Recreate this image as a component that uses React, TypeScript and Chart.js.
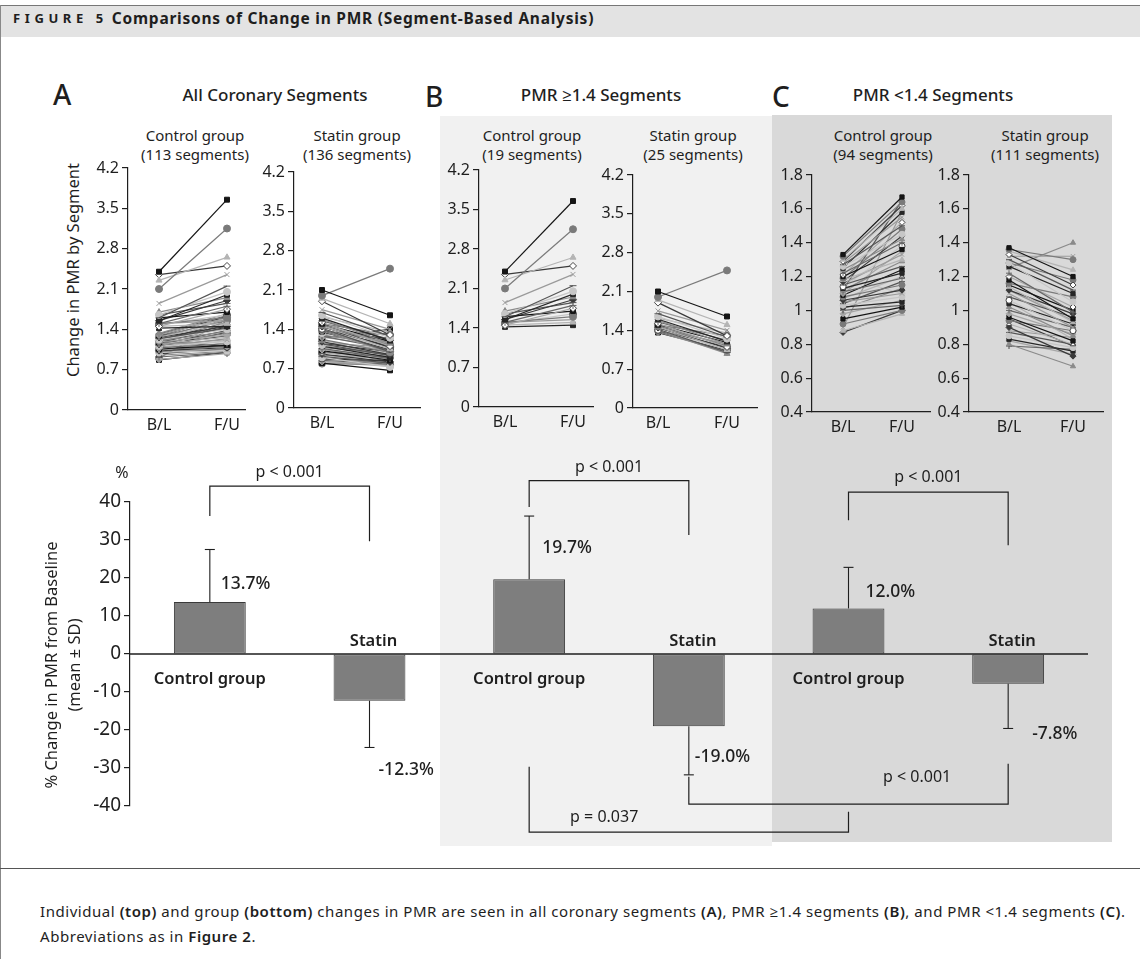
import React, { useEffect, useRef } from 'react';
import { Chart, registerables } from 'chart.js';

Chart.register(...registerables);

const FONT = '"Noto Sans", "Open Sans", "DejaVu Sans", sans-serif';
const INK = '#1e1e1e';

// ---------------- Data ----------------
const timePoints = ['B/L', 'F/U'];

// Panel B: PMR >= 1.4 segments (individual segments, baseline and follow-up)
const bControlBL = [2.40, 2.10, 2.25, 2.35, 1.85, 1.60, 1.65, 1.55, 1.70, 1.50, 1.45, 1.60, 1.50, 1.45, 1.55, 1.50, 1.65, 1.48, 1.42];
const bControlFU = [3.65, 3.15, 2.65, 2.50, 2.35, 2.15, 2.05, 2.00, 1.95, 1.80, 1.75, 1.70, 1.60, 1.50, 1.90, 1.55, 1.85, 1.65, 1.45];
const bStatinBL = [2.10, 2.00, 1.95, 1.90, 1.75, 1.70, 1.65, 1.60, 1.58, 1.55, 1.52, 1.50, 1.48, 1.46, 1.45, 1.44, 1.42, 1.41, 1.40, 1.40, 1.38, 1.37, 1.36, 1.50, 1.62];
const bStatinFU = [1.65, 2.48, 1.50, 1.30, 1.40, 1.28, 1.25, 1.20, 1.15, 1.22, 1.10, 1.18, 1.12, 1.05, 1.08, 1.15, 1.00, 1.05, 1.10, 0.98, 1.02, 1.00, 1.04, 1.30, 1.35];

// Panel C: PMR < 1.4 segments
const cControlBL = [1.33, 1.32, 1.30, 1.29, 1.28, 1.27, 1.26, 1.25, 1.24, 1.22, 1.21, 1.20, 1.19, 1.18, 1.17, 1.16, 1.15, 1.14, 1.13, 1.12, 1.11, 1.10, 1.09, 1.08, 1.07, 1.06, 1.05, 1.04, 1.03, 1.02, 1.01, 1.00, 0.98, 0.95, 0.92, 0.88, 0.87, 0.90, 1.12, 1.20];
const cControlFU = [1.67, 1.64, 1.60, 1.62, 1.55, 1.50, 1.45, 1.58, 1.42, 1.40, 1.52, 1.36, 1.48, 1.30, 1.44, 1.33, 1.26, 1.38, 1.22, 1.29, 1.19, 1.35, 1.24, 1.15, 1.20, 1.12, 1.10, 1.17, 1.08, 1.05, 1.13, 1.03, 1.06, 1.02, 1.00, 0.98, 1.00, 1.58, 1.65, 1.10];
const cStatinBL = [1.37, 1.36, 1.35, 1.33, 1.32, 1.30, 1.28, 1.26, 1.25, 1.22, 1.20, 1.18, 1.16, 1.14, 1.12, 1.10, 1.08, 1.06, 1.04, 1.02, 1.00, 0.98, 0.96, 0.94, 0.92, 0.90, 0.88, 0.87, 0.85, 0.83, 0.80, 0.79, 0.82, 1.15, 1.28, 1.05, 0.95, 1.12];
const cStatinFU = [1.20, 1.30, 1.24, 1.15, 1.32, 1.12, 1.05, 1.10, 1.40, 0.99, 1.02, 0.95, 1.08, 0.93, 0.98, 0.90, 0.96, 0.88, 0.92, 0.85, 0.90, 0.86, 0.82, 0.88, 0.80, 0.73, 0.84, 0.80, 0.78, 0.76, 0.67, 0.77, 0.74, 1.00, 1.18, 0.83, 0.79, 0.94];

// Panel A: all coronary segments = B + C
const aControlBL = [...bControlBL, ...cControlBL];
const aControlFU = [...bControlFU, ...cControlFU];
const aStatinBL = [...bStatinBL, ...cStatinBL];
const aStatinFU = [...bStatinFU, ...cStatinFU];

// Group-level % change from baseline (mean ± SD)
const barGroups = ['Control group', 'Statin', 'Control group', 'Statin', 'Control group', 'Statin'];
const meanChange = [13.7, -12.3, 19.7, -19.0, 12.0, -7.8];
const sdChange = [13.8, 12.3, 16.6, 12.8, 10.8, 11.8];
const pctAxis = { min: -40, max: 40, step: 10 };

const comparisons = [
  { from: 0, to: 1, label: 'p < 0.001' },
  { from: 2, to: 3, label: 'p < 0.001' },
  { from: 4, to: 5, label: 'p < 0.001' },
  { from: 3, to: 5, label: 'p < 0.001' },
  { from: 2, to: 4, label: 'p = 0.037' },
];

// ---------------- Layout / style (not data) ----------------
const bracketGeom = [
  { y: 44.2, fromEnd: 36.3, toEnd: 29.7, labelX: 0.5, labelY: 47.7 },
  { y: 45.6, fromEnd: 38.7, toEnd: 31.3, labelX: 2.5, labelY: 49.0 },
  { y: 42.6, fromEnd: 35.2, toEnd: 28.6, labelX: 4.5, labelY: 46.4 },
  { y: -39.5, fromEnd: -32.3, toEnd: -28.9, labelX: 4.43, labelY: -32.6 },
  { y: -46.9, fromEnd: -29.7, toEnd: -41.5, labelX: 2.47, labelY: -43.0 },
];
const valueLabelAt = [18.3, -30.5, 27.8, -27.0, 16.4, -21.0];
const valueLabelDx = [11, 9, 13, 6, 17, 24];

const SHADES = ['#151515', '#7a7a7a', '#b4b4b4', '#3a3a3a', '#9a9a9a', '#555555', '#c6c6c6', '#262626', '#8a8a8a', '#666666', '#a6a6a6'];
const MARKERS = ['rect', 'circle', 'triangle', 'rectRot', 'crossRot', 'line', 'circle', 'rect', 'triangle', 'cross', 'rectRot'];

const GEOM: Record<string, any> = {
  aCtrl: { axisX: 128, yTop: 168, y0: 410, bl: 159, fu: 227, right: 245 },
  aStat: { axisX: 294, yTop: 172, y0: 408, bl: 322, fu: 390, right: 420 },
  bCtrl: { axisX: 479, yTop: 170, y0: 407, bl: 505, fu: 573, right: 593 },
  bStat: { axisX: 633, yTop: 175, y0: 408, bl: 658, fu: 727, right: 757 },
  cCtrl: { axisX: 812, yTop: 175, y0: 412, bl: 843, fu: 902, right: 930 },
  cStat: { axisX: 969, yTop: 175, y0: 412, bl: 1009, fu: 1073, right: 1103 },
};

const fmt = (v: number) => String(+Number(v).toFixed(2));

function SmallChart({ bl, fu, yMin, yMax, step, g, radius }: any) {
  const ref = useRef<HTMLCanvasElement>(null);
  const Y_W = 50, X_H = 30, PAD_T = 20, PAD_R = 8;
  const width = Y_W + (g.right - g.axisX) + PAD_R;
  const height = PAD_T + (g.y0 - g.yTop) + X_H;
  useEffect(() => {
    const span = g.fu - g.bl;
    const xMin = (g.axisX - g.bl) / span;
    const xMax = (g.right - g.bl) / span;
    const datasets = bl.map((b: number, i: number) => {
      const shade = SHADES[i % SHADES.length];
      const hollow = i % 7 === 3;
      return {
        data: [{ x: 0, y: b }, { x: 1, y: fu[i] }],
        borderColor: shade,
        borderWidth: 1.2,
        pointStyle: MARKERS[i % MARKERS.length],
        pointRadius: radius,
        pointBackgroundColor: hollow ? '#ffffff' : shade,
        pointBorderColor: hollow ? '#444' : shade,
        pointBorderWidth: 1,
      };
    });
    const chart = new Chart(ref.current as HTMLCanvasElement, {
      type: 'line',
      data: { datasets },
      options: {
        animation: false,
        responsive: false,
        events: [],
        layout: { padding: { top: PAD_T, right: PAD_R, left: 0, bottom: 0 } },
        plugins: { legend: { display: false }, tooltip: { enabled: false } },
        scales: {
          x: {
            type: 'linear',
            min: xMin,
            max: xMax,
            afterBuildTicks: (s: any) => { s.ticks = [{ value: 0 }, { value: 1 }]; },
            afterFit: (s: any) => { s.height = X_H; },
            ticks: {
              autoSkip: false,
              maxRotation: 0,
              padding: 6,
              color: INK,
              font: { family: FONT, size: 16 },
              callback: (v: any) => (v === 0 ? timePoints[0] : v === 1 ? timePoints[1] : ''),
            },
            grid: { display: false, drawTicks: false },
            border: { display: true, color: INK, width: 1.2 },
          },
          y: {
            min: yMin,
            max: yMax,
            afterFit: (s: any) => { s.width = Y_W; },
            ticks: { stepSize: step, padding: 3, color: INK, font: { family: FONT, size: 16 }, callback: (v: any) => fmt(v) },
            grid: { drawOnChartArea: false, drawTicks: true, tickLength: 6, color: INK, lineWidth: 1.2 },
            border: { display: true, color: INK, width: 1.2 },
          },
        },
      } as any,
    });
    return () => chart.destroy();
  }, []);
  return (
    <canvas
      ref={ref}
      width={width}
      height={height}
      style={{ position: 'absolute', left: g.axisX - Y_W, top: g.yTop - PAD_T, width, height }}
    />
  );
}

const barAnnotations = {
  id: 'barAnnotations',
  afterDatasetsDraw(chart: any) {
    const { ctx, chartArea, scales } = chart;
    const X = (v: number) => scales.x.getPixelForValue(v);
    const Y = (v: number) => scales.y.getPixelForValue(v);
    const seg = (x1: number, y1: number, x2: number, y2: number) => {
      ctx.beginPath();
      ctx.moveTo(x1, y1);
      ctx.lineTo(x2, y2);
      ctx.stroke();
    };
    ctx.save();
    ctx.strokeStyle = INK;
    ctx.lineWidth = 1.4;
    seg(chartArea.left, Y(0), chartArea.right, Y(0));
    ctx.lineWidth = 1.1;
    meanChange.forEach((m, i) => {
      const cx = X(i);
      const end = m >= 0 ? m + sdChange[i] : m - sdChange[i];
      seg(cx, Y(m), cx, Y(end));
      seg(cx - 5, Y(end), cx + 5, Y(end));
    });
    ctx.lineWidth = 1.2;
    ctx.fillStyle = INK;
    comparisons.forEach((c, k) => {
      const g = bracketGeom[k];
      ctx.beginPath();
      ctx.moveTo(X(c.from), Y(g.fromEnd));
      ctx.lineTo(X(c.from), Y(g.y));
      ctx.lineTo(X(c.to), Y(g.y));
      ctx.lineTo(X(c.to), Y(g.toEnd));
      ctx.stroke();
      ctx.font = `400 16px ${FONT}`;
      ctx.textAlign = 'center';
      ctx.textBaseline = 'middle';
      ctx.fillText(c.label, X(g.labelX), Y(g.labelY));
    });
    meanChange.forEach((m, i) => {
      ctx.font = `500 17.5px ${FONT}`;
      ctx.textAlign = 'left';
      ctx.textBaseline = 'middle';
      ctx.fillText(`${m.toFixed(1)}%`, X(i) + valueLabelDx[i], Y(valueLabelAt[i]));
      ctx.font = `600 16.5px ${FONT}`;
      ctx.textAlign = 'center';
      if (m >= 0) {
        ctx.fillText(barGroups[i], X(i), Y(0) + 25);
      } else {
        ctx.fillText(barGroups[i], X(i) + 4, Y(0) - 13);
      }
    });
    ctx.restore();
  },
};

function BarChart() {
  const ref = useRef<HTMLCanvasElement>(null);
  const W = 1140, H = 440, TOP = 440;
  useEffect(() => {
    const chart = new Chart(ref.current as HTMLCanvasElement, {
      type: 'bar',
      data: {
        labels: barGroups,
        datasets: [
          {
            data: meanChange,
            backgroundColor: '#7e7e7e',
            borderColor: '#3a3a3a',
            borderWidth: 1,
            borderSkipped: false,
            barPercentage: 0.45,
            categoryPercentage: 1,
          },
        ],
      },
      options: {
        animation: false,
        responsive: false,
        events: [],
        layout: { padding: { top: 502 - TOP, bottom: TOP + H - 806, left: 0, right: W - 1088 } },
        plugins: { legend: { display: false }, tooltip: { enabled: false } },
        scales: {
          x: { display: false },
          y: {
            min: pctAxis.min,
            max: pctAxis.max,
            afterFit: (s: any) => { s.width = 130; },
            ticks: { stepSize: pctAxis.step, padding: 3, color: INK, font: { family: FONT, size: 19 }, callback: (v: any) => fmt(v) },
            grid: { drawOnChartArea: false, drawTicks: true, tickLength: 6, color: INK, lineWidth: 1.2 },
            border: { display: true, color: INK, width: 1.2 },
          },
        },
      } as any,
      plugins: [barAnnotations],
    });
    return () => chart.destroy();
  }, []);
  return <canvas ref={ref} width={W} height={H} style={{ position: 'absolute', left: 0, top: TOP, width: W, height: H }} />;
}

function T({ x, y, children, size = 15, weight = 400, rotate = false, align = 'center', style = {} }: any) {
  const tx = align === 'center' ? '-50%' : '0';
  return (
    <div
      style={{
        position: 'absolute',
        left: x,
        top: y,
        transform: `translate(${tx}, -50%)${rotate ? ' rotate(-90deg)' : ''}`,
        transformOrigin: 'center center',
        whiteSpace: 'nowrap',
        fontFamily: FONT,
        fontSize: size,
        fontWeight: weight,
        color: INK,
        lineHeight: 1.2,
        textAlign: 'center',
        ...style,
      }}
    >
      {children}
    </div>
  );
}

function Sub({ x, a, b }: any) {
  return (
    <>
      <T x={x} y={135}>{a}</T>
      <T x={x} y={154}>{b}</T>
    </>
  );
}

const B = ({ children }: any) => <b style={{ fontWeight: 600 }}>{children}</b>;

export default function App() {
  return (
    <div style={{ position: 'absolute', left: 0, top: 0, width: 1140, height: 959, background: '#fff', overflow: 'hidden' }}>
      {/* backgrounds */}
      <div style={{ position: 'absolute', left: 0, top: 5, width: 1140, height: 31, background: '#e3e3e3', borderTop: '1px solid #777' }} />
      <div style={{ position: 'absolute', left: 440, top: 116, width: 332, height: 730, background: '#f1f1f1' }} />
      <div style={{ position: 'absolute', left: 772, top: 115, width: 340, height: 727, background: '#d9d9d9' }} />
      <div style={{ position: 'absolute', left: 0, top: 5, width: 1, height: 954, background: '#888' }} />
      <div style={{ position: 'absolute', left: 0, top: 868, width: 1140, height: 1, background: '#555' }} />

      {/* header */}
      <div style={{ position: 'absolute', left: 13, top: 6, height: 24, display: 'flex', alignItems: 'center', fontFamily: FONT, color: INK, whiteSpace: 'nowrap' }}>
        <span style={{ fontSize: 13, fontWeight: 700, letterSpacing: 4.6, marginRight: 4 }}>FIGURE 5</span>
        <span style={{ fontSize: 15.5, fontWeight: 700, letterSpacing: 0.75 }}>Comparisons of Change in PMR (Segment-Based Analysis)</span>
      </div>

      {/* panel titles */}
      <T x={53} y={95} size={28} weight={500} align="left">A</T>
      <T x={275} y={95} size={17} weight={500}>All Coronary Segments</T>
      <T x={425} y={97} size={28} weight={500} align="left">B</T>
      <T x={601} y={95} size={17} weight={500}>PMR ≥1.4 Segments</T>
      <T x={772} y={97} size={28} weight={500} align="left">C</T>
      <T x={933} y={95} size={17} weight={500}>PMR &lt;1.4 Segments</T>

      <Sub x={195} a="Control group" b="(113 segments)" />
      <Sub x={357} a="Statin group" b="(136 segments)" />
      <Sub x={532} a="Control group" b="(19 segments)" />
      <Sub x={693} a="Statin group" b="(25 segments)" />
      <Sub x={883} a="Control group" b="(94 segments)" />
      <Sub x={1045} a="Statin group" b="(111 segments)" />

      <T x={73} y={270} size={16.5} rotate>Change in PMR by Segment</T>

      <SmallChart bl={aControlBL} fu={aControlFU} yMin={0} yMax={4.2} step={0.7} g={GEOM.aCtrl} radius={3.5} />
      <SmallChart bl={aStatinBL} fu={aStatinFU} yMin={0} yMax={4.2} step={0.7} g={GEOM.aStat} radius={3.5} />
      <SmallChart bl={bControlBL} fu={bControlFU} yMin={0} yMax={4.2} step={0.7} g={GEOM.bCtrl} radius={3.5} />
      <SmallChart bl={bStatinBL} fu={bStatinFU} yMin={0} yMax={4.2} step={0.7} g={GEOM.bStat} radius={3.5} />
      <SmallChart bl={cControlBL} fu={cControlFU} yMin={0.4} yMax={1.8} step={0.2} g={GEOM.cCtrl} radius={3} />
      <SmallChart bl={cStatinBL} fu={cStatinFU} yMin={0.4} yMax={1.8} step={0.2} g={GEOM.cStat} radius={3} />

      <BarChart />

      <T x={122} y={473} size={16}>%</T>
      <T x={51} y={665} size={16.5} rotate>% Change in PMR from Baseline</T>
      <T x={74} y={665} size={16.5} rotate>(mean ± SD)</T>

      {/* caption */}
      <div style={{ position: 'absolute', left: 40, top: 899, fontFamily: FONT, fontSize: 15, letterSpacing: 0.55, color: INK, whiteSpace: 'nowrap', lineHeight: '25px' }}>
        <div>
          Individual <B>(top)</B> and group <B>(bottom)</B> changes in PMR are seen in all coronary segments <B>(A)</B>, PMR ≥1.4 segments <B>(B)</B>, and PMR &lt;1.4 segments <B>(C)</B>.
        </div>
        <div>
          Abbreviations as in <B>Figure 2</B>.
        </div>
      </div>
    </div>
  );
}
